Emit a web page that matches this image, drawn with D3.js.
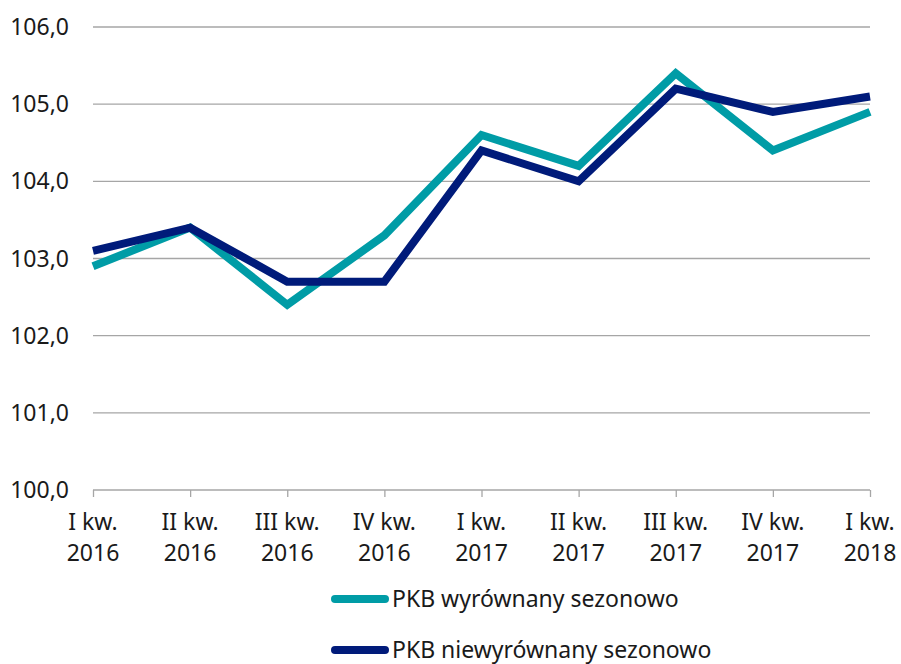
<!DOCTYPE html>
<html><head><meta charset="utf-8">
<script src="https://cdn.jsdelivr.net/npm/d3@7"></script>
<style>body{margin:0;background:#fff}svg{display:block}text{font-family:"Noto Sans",sans-serif;fill:#1a1a1a}</style>
</head><body>
<script>
const categories = [["I kw.","2016"],["II kw.","2016"],["III kw.","2016"],["IV kw.","2016"],["I kw.","2017"],["II kw.","2017"],["III kw.","2017"],["IV kw.","2017"],["I kw.","2018"]];
const seasonal = [102.9,103.4,102.4,103.3,104.6,104.2,105.4,104.4,104.9];
const nonSeasonal = [103.1,103.4,102.7,102.7,104.4,104.0,105.2,104.9,105.1];
const yTicks = [100,101,102,103,104,105,106];
const seriesNames = ["PKB wyrównany sezonowo","PKB niewyrównany sezonowo"];
const colors = ["#009ca6","#001b7a"];

const W=901,H=664;
const svg=d3.select("body").append("svg").attr("width",W).attr("height",H);
const x=d3.scalePoint().domain(d3.range(categories.length)).range([93,870]);
const y=d3.scaleLinear().domain([100,106]).range([490,27]);

svg.append("g").selectAll("line").data(yTicks.filter(d=>d>100)).join("line")
  .attr("x1",93).attr("x2",870).attr("y1",d=>y(d)).attr("y2",d=>y(d))
  .attr("stroke","#a6a6a6").attr("stroke-width",1.3);
svg.append("g").selectAll("text").data(yTicks).join("text")
  .attr("x",69).attr("y",d=>y(d)+8).attr("text-anchor","end")
  .attr("font-size",23).text(d=>d.toFixed(1).replace(".",","));
const xa=svg.append("g").attr("transform","translate(0,490)")
  .call(d3.axisBottom(x).tickSize(7).tickFormat(""));
xa.select(".domain").attr("stroke","#a6a6a6").attr("stroke-width",1.3).attr("d","M93,0H870");
xa.selectAll(".tick line").attr("stroke","#a6a6a6").attr("stroke-width",1.3);
const lab=svg.append("g").selectAll("text").data(categories).join("text")
  .attr("text-anchor","middle").attr("font-size",23);
lab.append("tspan").attr("x",(d,i)=>x(i)).attr("y",530).text(d=>d[0]);
lab.append("tspan").attr("x",(d,i)=>x(i)).attr("y",561).text(d=>d[1]);

const line=d3.line().x((d,i)=>x(i)).y(d=>y(d));
[seasonal,nonSeasonal].forEach((s,k)=>{
  svg.append("path").datum(s).attr("d",line).attr("fill","none")
    .attr("stroke",colors[k]).attr("stroke-width",8).attr("stroke-linejoin","miter");
});
seriesNames.forEach((n,k)=>{
  const ly=599+k*51;
  svg.append("line").attr("x1",335).attr("x2",385).attr("y1",ly).attr("y2",ly)
    .attr("stroke",colors[k]).attr("stroke-width",8).attr("stroke-linecap","round");
  svg.append("text").attr("x",392).attr("y",ly+8).attr("font-size",23).text(n);
});
</script>
</body></html>
